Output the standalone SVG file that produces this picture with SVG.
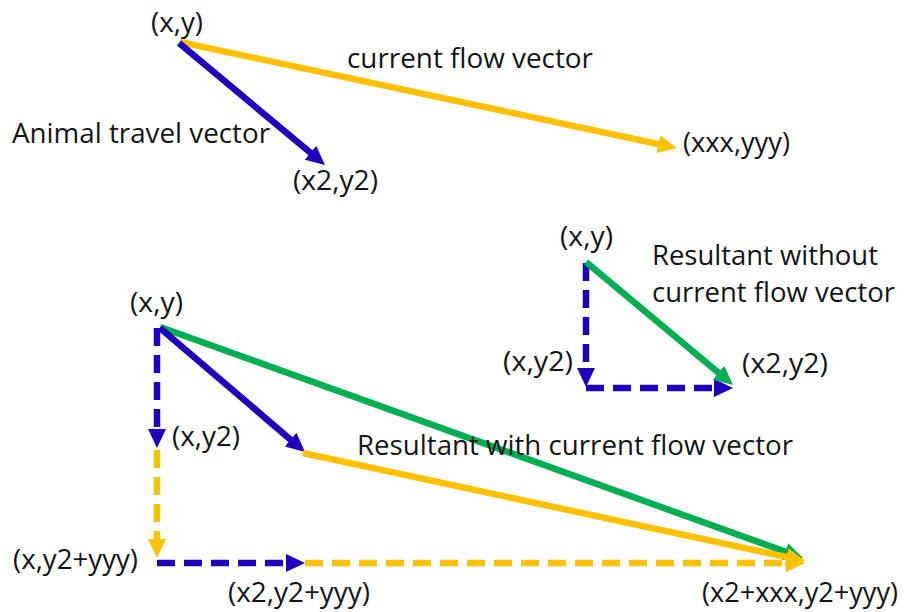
<svg xmlns="http://www.w3.org/2000/svg" width="904" height="612" viewBox="0 0 904 612">
<style>
  .lbl { font-family: "Open Sans", "Liberation Sans", sans-serif; font-size: 27px; fill: #151515; }
  .blue { stroke: #2000C0; }
  .yel { stroke: #FFC000; }
  .grn { stroke: #00B050; }
  .v { fill: none; stroke-width: 6.5; stroke-linecap: butt; }
  .dash { stroke-dasharray: 18 9; }
</style>
<defs>
  <marker id="ah-blue" markerUnits="userSpaceOnUse" markerWidth="20" markerHeight="20" viewBox="0 -10 20 20" refX="2" refY="0" orient="auto">
    <path d="M0,-9 L19,0 L0,9 z" fill="#2000C0"/>
  </marker>
  <marker id="ah-yel" markerUnits="userSpaceOnUse" markerWidth="20" markerHeight="20" viewBox="0 -10 20 20" refX="2" refY="0" orient="auto">
    <path d="M0,-9 L19,0 L0,9 z" fill="#FFC000"/>
  </marker>
  <marker id="ah-grn" markerUnits="userSpaceOnUse" markerWidth="20" markerHeight="20" viewBox="0 -10 20 20" refX="2" refY="0" orient="auto">
    <path d="M0,-9 L19,0 L0,9 z" fill="#00B050"/>
  </marker>
</defs>
<rect width="904" height="612" fill="#ffffff"/>

<g id="connectors">
  <!-- top -->
  <line id="top-current" class="v yel" x1="180" y1="42" x2="660.4" y2="144.5" marker-end="url(#ah-yel)"/>
  <line id="top-animal" class="v blue" x1="179" y1="43" x2="312" y2="154.1" marker-end="url(#ah-blue)"/>
  <!-- right triangle -->
  <line id="r-down" class="v blue dash" x1="586" y1="263" x2="586" y2="370" marker-end="url(#ah-blue)"/>
  <line id="r-across" class="v blue dash" x1="586" y1="388" x2="716" y2="388" marker-end="url(#ah-blue)"/>
  <line id="r-result" class="v grn" x1="586" y1="262" x2="720" y2="374.1" marker-end="url(#ah-grn)"/>
  <!-- bottom -->
  <line id="b-down" class="v blue dash" x1="157" y1="328" x2="157" y2="431" marker-end="url(#ah-blue)"/>
  <line id="b-down2" class="v yel dash" x1="157" y1="450" x2="157" y2="541" marker-end="url(#ah-yel)"/>
  <line id="b-across" class="v blue dash" x1="157" y1="563" x2="288" y2="563" marker-end="url(#ah-blue)"/>
  <line id="b-across2" class="v yel dash" x1="305" y1="563" x2="788" y2="563" marker-end="url(#ah-yel)"/>
  <line id="b-result" class="v grn" x1="160" y1="327" x2="787" y2="552.3" marker-end="url(#ah-grn)"/>
  <line id="b-animal" class="v blue" x1="160" y1="328" x2="292.1" y2="440.95" marker-end="url(#ah-blue)"/>
  <line id="b-current" class="v yel" x1="303" y1="453" x2="788.4" y2="557.4" marker-end="url(#ah-yel)"/>
</g>

<g id="node-top-origin"><text class="lbl" x="151" y="32" textLength="52" lengthAdjust="spacingAndGlyphs">(x,y)</text></g>
<g id="node-top-current-label"><text class="lbl" x="347" y="68" textLength="246" lengthAdjust="spacingAndGlyphs">current flow vector</text></g>
<g id="node-top-animal-label"><text class="lbl" x="12" y="143" textLength="258" lengthAdjust="spacingAndGlyphs">Animal travel vector</text></g>
<g id="node-top-x2y2"><text class="lbl" x="293" y="190" textLength="85" lengthAdjust="spacingAndGlyphs">(x2,y2)</text></g>
<g id="node-top-xxxyyy"><text class="lbl" x="683" y="152" textLength="107" lengthAdjust="spacingAndGlyphs">(xxx,yyy)</text></g>

<g id="node-r-origin"><text class="lbl" x="560" y="246" textLength="53" lengthAdjust="spacingAndGlyphs">(x,y)</text></g>
<g id="node-r-label">
  <text class="lbl" x="652" y="265" textLength="226" lengthAdjust="spacingAndGlyphs">Resultant without</text>
  <text class="lbl" x="652" y="302" textLength="243" lengthAdjust="spacingAndGlyphs">current flow vector</text>
</g>
<g id="node-r-xy2"><text class="lbl" x="503" y="371" textLength="70" lengthAdjust="spacingAndGlyphs">(x,y2)</text></g>
<g id="node-r-x2y2"><text class="lbl" x="742" y="373" textLength="86" lengthAdjust="spacingAndGlyphs">(x2,y2)</text></g>

<g id="node-b-origin"><text class="lbl" x="130" y="312" textLength="53" lengthAdjust="spacingAndGlyphs">(x,y)</text></g>
<g id="node-b-xy2"><text class="lbl" x="172" y="446" textLength="68" lengthAdjust="spacingAndGlyphs">(x,y2)</text></g>
<g id="node-b-label"><text class="lbl" x="357" y="455" textLength="436" lengthAdjust="spacingAndGlyphs">Resultant with current flow vector</text></g>
<g id="node-b-xy2yyy"><text class="lbl" x="13" y="569" textLength="125" lengthAdjust="spacingAndGlyphs">(x,y2+yyy)</text></g>
<g id="node-b-x2y2yyy"><text class="lbl" x="228" y="602" textLength="142" lengthAdjust="spacingAndGlyphs">(x2,y2+yyy)</text></g>
<g id="node-b-final"><text class="lbl" x="702" y="602" textLength="196" lengthAdjust="spacingAndGlyphs">(x2+xxx,y2+yyy)</text></g>
</svg>
